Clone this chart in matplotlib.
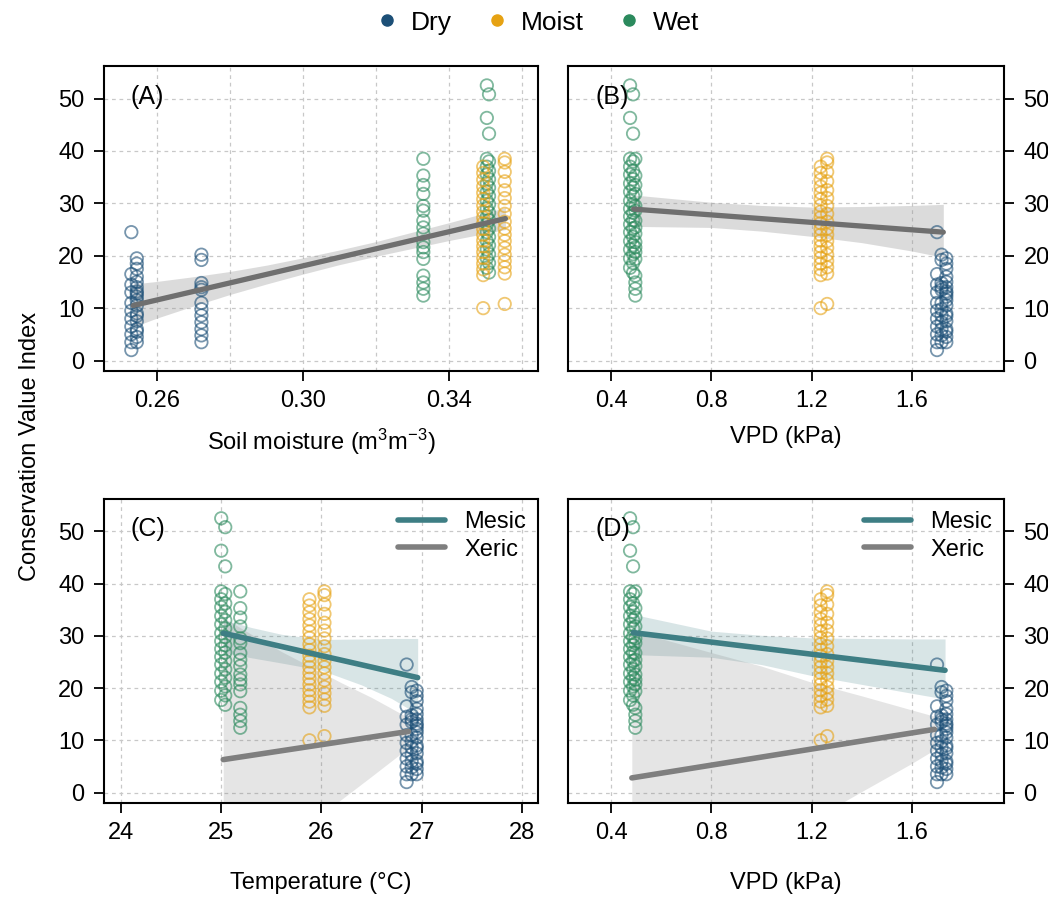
import matplotlib
matplotlib.use("Agg")
import matplotlib.pyplot as plt
from matplotlib.lines import Line2D
from matplotlib.ticker import MultipleLocator
import numpy as np

plt.rcParams["font.family"] = ["Liberation Sans", "DejaVu Sans"]
plt.rcParams["mathtext.default"] = "regular"

# ---- site-level covariates (one entry per plotted column) ----
COLUMNS = ["D1a", "D1b", "D2", "W1", "W2a", "W2b", "M1", "M2"]
GROUP = {"D1a": "Dry", "D1b": "Dry", "D2": "Dry", "W1": "Wet", "W2a": "Wet", "W2b": "Wet",
         "M1": "Moist", "M2": "Moist"}
SOIL_MOISTURE = {"D1a": 0.2530, "D1b": 0.2545, "D2": 0.2722, "W1": 0.3330, "W2a": 0.3504,
                 "W2b": 0.3510, "M1": 0.3494, "M2": 0.3553}
VPD = {"D1a": 1.700, "D1b": 1.737, "D2": 1.718, "W1": 0.497, "W2a": 0.476, "W2b": 0.488,
       "M1": 1.236, "M2": 1.262}
TEMPERATURE = {"D1a": 26.85, "D1b": 26.95, "D2": 26.90, "W1": 25.19, "W2a": 25.00, "W2b": 25.04,
               "M1": 25.88, "M2": 26.03}

# ---- conservation value index per column ----
CVI = {
    "D1a": [24.5, 16.5, 14.5, 13.0, 11.0, 9.5, 8.0, 6.5, 5.0, 3.5, 2.0],
    "D1b": [19.5, 18.5, 17.5, 16.0, 15.0, 14.0, 13.2, 12.8, 12.2, 11.5, 10.5, 9.0, 8.5, 7.5, 6.0, 5.5, 4.5, 3.5],
    "D2": [20.2, 19.2, 14.8, 14.0, 13.5, 11.0, 9.8, 8.6, 7.3, 6.0, 4.8, 3.5],
    "W1": [38.5, 35.3, 33.5, 31.8, 29.5, 28.6, 26.7, 25.4, 24.2, 22.6, 21.6, 20.7, 19.4, 16.2, 14.9, 13.7, 12.4],
    "W2a": [52.5, 46.3, 38.5, 37.0, 35.5, 33.8, 32.2, 30.5, 29.0, 27.5, 26.0, 24.5, 22.8, 21.2, 19.5, 17.7],
    "W2b": [50.8, 43.3, 38.0, 36.2, 34.6, 33.0, 31.4, 29.8, 28.2, 26.8, 25.2, 23.6, 22.0, 20.3, 18.6, 16.8],
    "M1": [37.0, 35.8, 34.5, 33.2, 32.0, 30.8, 29.6, 28.4, 27.3, 26.2, 25.1, 24.0, 22.9, 21.8, 20.7,
           19.6, 18.5, 17.4, 16.3, 10.0],
    "M2": [38.5, 37.8, 36.0, 34.2, 32.5, 31.0, 29.5, 28.0, 26.5, 25.2, 24.0, 22.8, 21.5, 20.2, 19.0,
           17.8, 16.6, 10.8],
}

GROUP_COLORS = {"Dry": "#1c4f77", "Moist": "#e6a213", "Wet": "#2b8a5d"}
MESIC_COLOR = "#3e7e84"
XERIC_COLOR = "#7f7f7f"
FIT_COLOR = "#6f6f6f"

# ---- fitted lines and confidence bands ----
fitA_x = [0.2535, 0.3555]
fitA_y = [10.5, 27.1]
bandA_x = [0.2535, 0.26, 0.27, 0.28, 0.29, 0.30, 0.31, 0.32, 0.33, 0.34, 0.3555]
bandA_lo = [6.4, 8.1, 10.4, 12.6, 14.6, 16.5, 18.3, 19.9, 21.4, 22.9, 25.0]
bandA_hi = [14.6, 15.1, 16.0, 17.0, 18.2, 19.6, 21.1, 22.7, 24.5, 26.3, 29.2]

fitB_x = [0.49, 1.725]
fitB_y = [28.9, 24.5]
bandB_x = [0.49, 0.8, 1.0, 1.2, 1.4, 1.6, 1.725]
bandB_lo = [25.6, 25.4, 24.7, 23.7, 22.5, 20.9, 19.7]
bandB_hi = [31.6, 30.2, 29.6, 29.3, 29.4, 29.6, 29.8]

mesicC_x = [25.02, 26.96]
mesicC_y = [30.5, 22.0]
mesicC_band_x = [25.02, 25.3, 25.6, 26.0, 26.4, 26.7, 26.96]
mesicC_lo = [26.8, 25.8, 24.8, 23.4, 20.6, 18.0, 15.0]
mesicC_hi = [33.1, 31.6, 30.3, 29.3, 29.4, 29.5, 29.5]
xericC_x = [25.02, 26.87]
xericC_y = [6.3, 11.7]
xericC_band_x = [25.02, 25.3, 25.6, 25.9, 26.2, 26.5, 26.87]
xericC_lo = [-20.0, -15.0, -10.0, -5.7, -1.3, 3.1, 8.6]
xericC_hi = [33.5, 30.3, 27.0, 24.0, 21.0, 18.2, 14.3]

mesicD_x = [0.489, 1.732]
mesicD_y = [30.6, 23.4]
mesicD_band_x = [0.489, 0.8, 1.0, 1.2, 1.4, 1.6, 1.732]
mesicD_lo = [26.4, 25.9, 24.5, 22.4, 20.7, 19.0, 17.9]
mesicD_hi = [34.1, 30.9, 30.1, 29.6, 29.5, 29.4, 29.4]
xericD_x = [0.483, 1.69]
xericD_y = [2.8, 12.1]
xericD_band_x = [0.483, 0.8, 1.0, 1.2, 1.4, 1.6, 1.69]
xericD_lo = [-28.0, -20.0, -12.0, -5.3, 0.2, 5.6, 8.2]
xericD_hi = [31.0, 26.8, 24.2, 21.1, 18.5, 15.8, 14.6]

FS = 17


def scatter_points(ax, covariate):
    for col in COLUMNS:
        ys = CVI[col]
        xs = [covariate[col]] * len(ys)
        ax.scatter(xs, ys, s=80, facecolors="none", edgecolors=GROUP_COLORS[GROUP[col]],
                   linewidths=1.3, alpha=0.6, zorder=3)


def style_axis(ax, xlim, right=False):
    ax.set_xlim(*xlim)
    ax.set_ylim(-2.0, 56.2)
    ax.set_yticks([0, 10, 20, 30, 40, 50])
    ax.grid(True, which="both", color="#c8c8c8", linestyle=(0, (3, 3)), linewidth=0.9, zorder=0)
    ax.set_axisbelow(True)
    ax.tick_params(which="major", direction="out", length=7, width=1.3, labelsize=FS, pad=7)
    ax.tick_params(which="minor", length=0)
    for s in ax.spines.values():
        s.set_linewidth(1.5)
    if right:
        ax.yaxis.tick_right()


def band(ax, x, lo, hi, color, alpha):
    ax.fill_between(x, lo, hi, color=color, alpha=alpha, linewidth=0, zorder=2)


fig = plt.figure(figsize=(10.48, 9.01), dpi=100)
axA = fig.add_axes([0.0992, 0.5882, 0.4141, 0.3385])
axB = fig.add_axes([0.542, 0.5882, 0.416, 0.3385])
axC = fig.add_axes([0.0992, 0.1088, 0.4141, 0.3374])
axD = fig.add_axes([0.542, 0.1088, 0.416, 0.3374])

# (A) soil moisture
scatter_points(axA, SOIL_MOISTURE)
band(axA, bandA_x, bandA_lo, bandA_hi, "#9a9a9a", 0.35)
axA.plot(fitA_x, fitA_y, color=FIT_COLOR, lw=3.8, solid_capstyle="round", zorder=4)
style_axis(axA, (0.2455, 0.3644))
axA.set_xticks([0.26, 0.30, 0.34])
axA.set_xticklabels(["0.26", "0.30", "0.34"])
axA.xaxis.set_minor_locator(MultipleLocator(0.02))
axA.set_xlabel("Soil moisture (m$^{3}$m$^{-3}$)", fontsize=FS, labelpad=10)

# (B) VPD
scatter_points(axB, VPD)
band(axB, bandB_x, bandB_lo, bandB_hi, "#9a9a9a", 0.35)
axB.plot(fitB_x, fitB_y, color=FIT_COLOR, lw=3.8, solid_capstyle="round", zorder=4)
style_axis(axB, (0.2286, 1.967), right=True)
axB.set_xticks([0.4, 0.8, 1.2, 1.6])
axB.set_xlabel("VPD (kPa)", fontsize=FS, labelpad=10)

# (C) temperature, mesic vs xeric
scatter_points(axC, TEMPERATURE)
band(axC, mesicC_band_x, mesicC_lo, mesicC_hi, MESIC_COLOR, 0.2)
band(axC, xericC_band_x, xericC_lo, xericC_hi, XERIC_COLOR, 0.2)
axC.plot(mesicC_x, mesicC_y, color=MESIC_COLOR, lw=4, solid_capstyle="round", zorder=4)
axC.plot(xericC_x, xericC_y, color=XERIC_COLOR, lw=4, solid_capstyle="round", zorder=4)
style_axis(axC, (23.83, 28.16))
axC.set_xticks([24, 25, 26, 27, 28])
axC.set_xlabel("Temperature (°C)", fontsize=FS, labelpad=20)

# (D) VPD, mesic vs xeric
scatter_points(axD, VPD)
band(axD, mesicD_band_x, mesicD_lo, mesicD_hi, MESIC_COLOR, 0.2)
band(axD, xericD_band_x, xericD_lo, xericD_hi, XERIC_COLOR, 0.2)
axD.plot(mesicD_x, mesicD_y, color=MESIC_COLOR, lw=4, solid_capstyle="round", zorder=4)
axD.plot(xericD_x, xericD_y, color=XERIC_COLOR, lw=4, solid_capstyle="round", zorder=4)
style_axis(axD, (0.2286, 1.967), right=True)
axD.set_xticks([0.4, 0.8, 1.2, 1.6])
axD.set_xlabel("VPD (kPa)", fontsize=FS, labelpad=20)

for ax, lab, xpos in [(axA, "(A)", 0.06), (axB, "(B)", 0.064), (axC, "(C)", 0.06), (axD, "(D)", 0.064)]:
    ax.text(xpos, 0.9, lab, transform=ax.transAxes, fontsize=18, ha="left", va="center", zorder=5)

mx_handles = [Line2D([], [], color=MESIC_COLOR, lw=4, solid_capstyle="round"),
              Line2D([], [], color=XERIC_COLOR, lw=4, solid_capstyle="round")]
for ax in (axC, axD):
    ax.legend(mx_handles, ["Mesic", "Xeric"], loc="upper right", fontsize=FS, frameon=False,
              handlelength=2.0, handletextpad=0.8, labelspacing=0.25, borderaxespad=0.3,
              borderpad=0.2)

grp_handles = [Line2D([], [], marker="o", linestyle="none", markersize=8, color=GROUP_COLORS[g])
               for g in ["Dry", "Moist", "Wet"]]
fig.legend(grp_handles, ["Dry", "Moist", "Wet"], loc="center", bbox_to_anchor=(0.512, 0.975),
           ncol=3, fontsize=19, frameon=False, handlelength=1.0, handletextpad=0.4,
           columnspacing=1.2)

fig.text(0.029, 0.505, "Conservation Value Index", rotation=90, fontsize=FS, ha="center", va="center")

fig.savefig("out.png", dpi=100)
